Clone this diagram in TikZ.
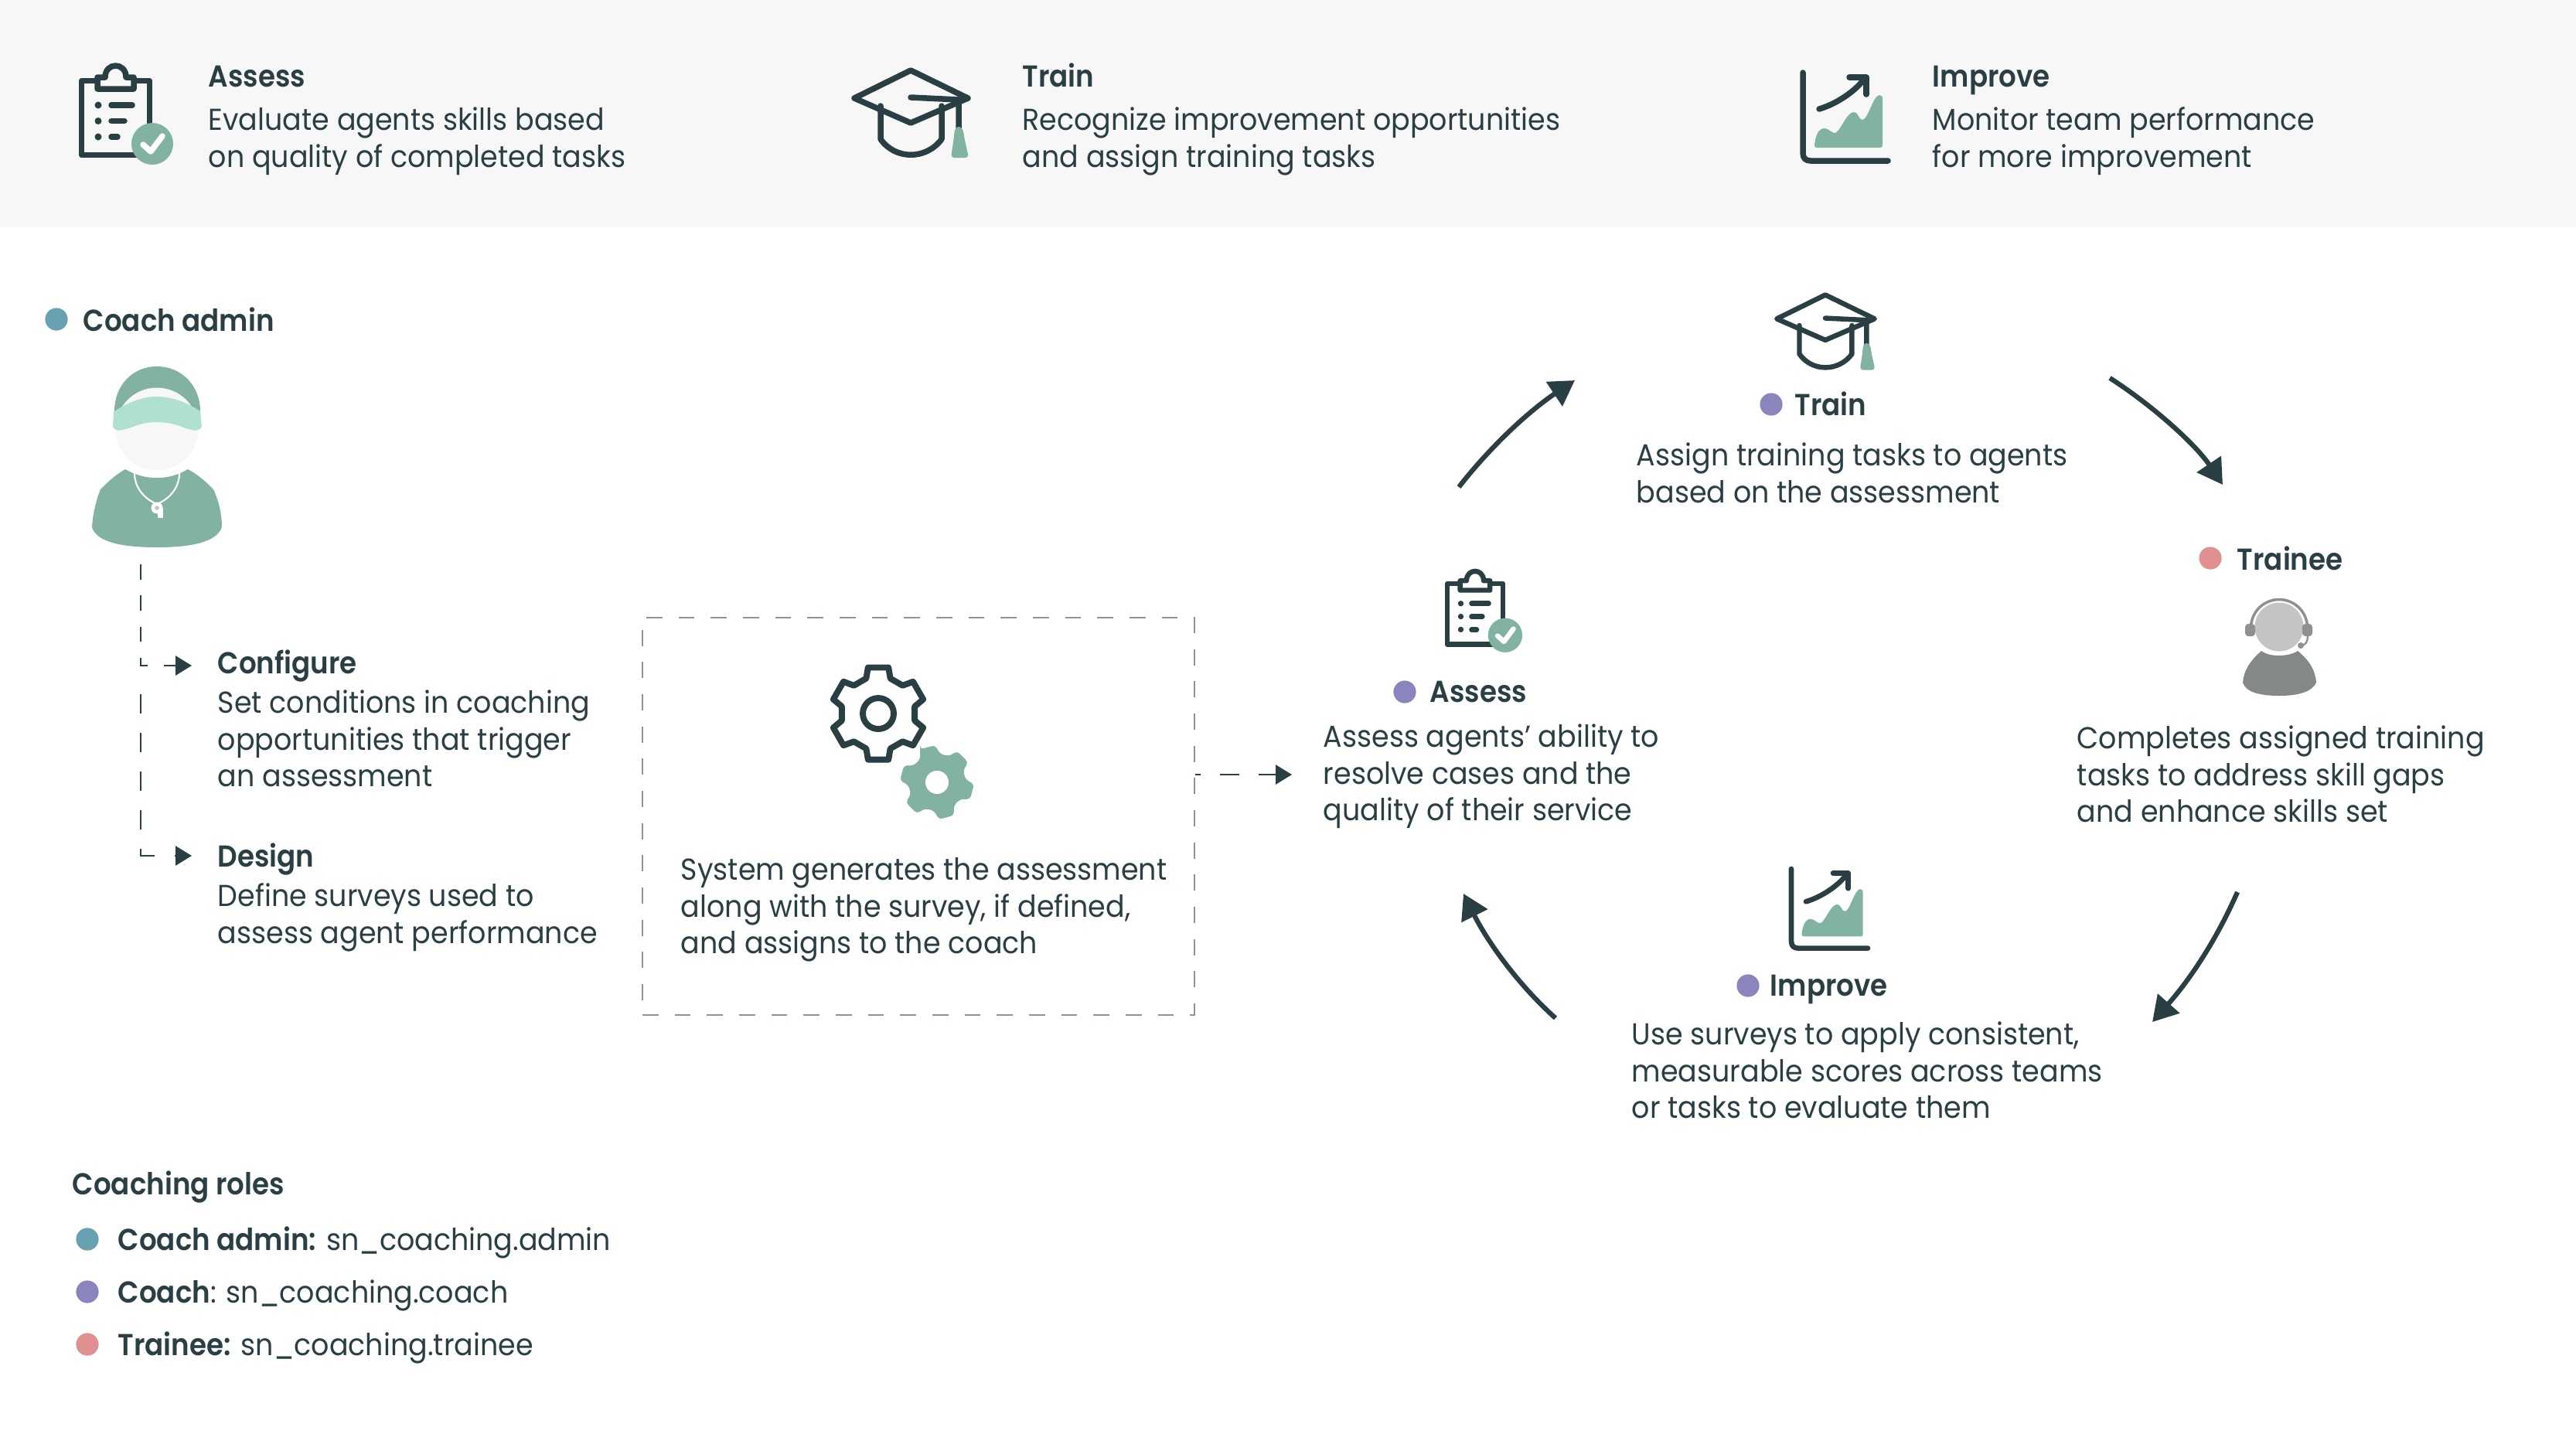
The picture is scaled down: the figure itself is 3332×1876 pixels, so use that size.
\documentclass[tikz,border=0pt]{standalone}
\usepackage{fontspec}
\setmainfont{Poppins}[UprightFeatures={FakeStretch=0.93},BoldFont={Poppins SemiBold},BoldFeatures={FakeStretch=0.91}]
\usetikzlibrary{arrows.meta,calc}
\definecolor{ink}{HTML}{293F44}
\definecolor{sage}{HTML}{81B3A0}
\definecolor{mint}{HTML}{B0E0CF}
\definecolor{band}{HTML}{F7F7F7}
\definecolor{dotblue}{HTML}{68A2B2}
\definecolor{dotpurple}{HTML}{8A85BD}
\definecolor{dotred}{HTML}{E09090}
\definecolor{greyA}{HTML}{C2C4C6}
\definecolor{greyB}{HTML}{8E9092}
\definecolor{greyC}{HTML}{858889}
\definecolor{dashgrey}{HTML}{8F9393}
\tikzset{
  bodytext/.style={anchor=north west,inner sep=0pt,align=left,text=ink,font=\fontsize{9.4}{11.47}\selectfont},
  headtext/.style={anchor=base west,inner sep=0pt,text=ink,font=\fontsize{9.4}{11.47}\selectfont\bfseries},
  roletext/.style={anchor=base west,inner sep=0pt,text=ink,font=\fontsize{9.4}{11.47}\selectfont},
  bigdot/.style={circle,inner sep=0pt,minimum size=7pt,draw=none},
  iconline/.style={draw=ink,line join=round,line cap=round},
  cyclearrow/.style={draw=ink,line width=1.5pt,-{Triangle[length=7.7pt,width=8.8pt]}},
  tri/.style={-{Triangle[length=5pt,width=6pt]}},
}
\newcommand{\iconclip}[5]{% x y scale lw bg
\begin{scope}[shift={(#1,#2)},scale=#3]
 \draw[iconline,line width=#4,fill=#5] (3.5,3.5) rectangle (91.5,99.5);
 \draw[iconline,line width=#4,fill=#5] (24,14) -- (24,-1) -- (34,-1) .. controls (34,-21) and (61,-21) .. (61,-1) -- (71,-1) -- (71,14) -- cycle;
 \fill[ink] (25,35) circle (4.5);
 \fill[ink] (25,55.5) circle (4.5);
 \fill[ink] (25,76) circle (4.5);
 \draw[iconline,line width=#4] (42,35) -- (69,35);
 \draw[iconline,line width=#4] (42,55.5) -- (59,55.5);
 \draw[iconline,line width=#4] (42,76) -- (50,76);
 \fill[sage] (95,85) circle (27);
 \draw[white,line width=#4,line cap=round,line join=round] (83,86) -- (93,95) -- (108,75);
\end{scope}}
\newcommand{\iconcap}[4]{% x y scale lw (origin = top of diamond)
\begin{scope}[shift={(#1,#2)},scale=#3]
 \draw[iconline,line width=#4] (-39,50) -- (-39,93) .. controls (-20,120) and (20,120) .. (40,93) -- (40,50);
 \draw[iconline,line width=#4] (0,4) -- (74,40) -- (0,72) -- (-73,40) -- cycle;
 \draw[iconline,line width=#4] (0,39) -- (62,42) -- (62,82);
 \fill[sage,rounded corners=1pt] (52,117) -- (56,90) .. controls (57,74) and (67,74) .. (69,90) -- (75,117) -- cycle;
\end{scope}}
\newcommand{\iconchart}[4]{% x y scale lw (origin = top of axis)
\begin{scope}[shift={(#1,#2)},scale=#3]
 \fill[sage] (15,94) .. controls (16,82) and (20,72) .. (28,72) .. controls (33,72) and (37,78) .. (41,78) .. controls (48,78) and (56,51) .. (66,51) .. controls (72,51) and (72,61) .. (77,61) .. controls (84,61) and (91,29) .. (99,29) .. controls (102,29) and (103,31) .. (103,35) -- (103,93) .. controls (103,96) and (102,97) .. (100,97) -- (18,97) .. controls (16,97) and (15,96) .. (15,94) -- cycle;
 \draw[iconline,line width=#4] (0,0) -- (0,104) .. controls (0,111) and (4,114) .. (10,114) -- (110,114);
 \draw[iconline,line width=#4] (21,47) .. controls (45,40) and (70,22) .. (80,7);
 \draw[iconline,line width=#4] (60,6) -- (82,6) -- (82,28);
\end{scope}}
\begin{document}
\begin{tikzpicture}[x=0.24pt,y=-0.24pt]
\useasboundingbox (0,0) rectangle (3332,1876);
\fill[white] (0,0) rectangle (3332,1876);
\fill[band] (0,0) rectangle (3332,293);
% top band
\iconclip{102}{101}{1}{1.8pt}{band}
\iconcap{1178}{87}{1}{1.8pt}
\iconchart{2332}{94}{1}{1.8pt}
\node[headtext] (hassess) at (269,112) {Assess};
\node[bodytext] (bassess) at (269,134) {\strut Evaluate agents skills based\\on quality of completed tasks};
\node[headtext] (htrain) at (1322,112) {Train};
\node[bodytext] (btrain) at (1322,134) {\strut Recognize improvement opportunities\\and assign training tasks};
\node[headtext] (himprove) at (2499,112) {Improve};
\node[bodytext] (bimprove) at (2499,134) {\strut Monitor team performance\\for more improvement};
% coach admin
\node[bigdot,fill=dotblue] (dcoach) at (73,413) {};
\node[headtext] (lcoach) at (107,428) {Coach admin};
\fill[sage] (203,474) .. controls (172,474) and (148,498) .. (148,532) -- (259,532) .. controls (259,498) and (234,474) .. (203,474) -- cycle;
\fill[band] (203,555) circle (53.5);
\fill[mint] (147,533) .. controls (165,520) and (185,513) .. (203,513) .. controls (222,513) and (243,521) .. (259,532) -- (261,552) .. controls (257,560) and (245,556) .. (235,552) .. controls (222,547) and (212,546) .. (203,546) .. controls (192,546) and (182,548) .. (172,552) .. controls (160,556) and (150,560) .. (146,552) -- cycle;
\fill[sage] (162,607) .. controls (188,622) and (218,622) .. (243,607) .. controls (258,615) and (268,625) .. (276,633) .. controls (283,648) and (287,665) .. (287,682) .. controls (280,702) and (245,708) .. (203,708) .. controls (160,708) and (125,702) .. (119,682) .. controls (120,665) and (124,648) .. (130,633) .. controls (138,625) and (148,615) .. (162,607) -- cycle;
\draw[white,line width=0.5pt] (174,612) .. controls (174,632) and (188,646) .. (203,652) .. controls (218,646) and (232,632) .. (232,612);
\fill[white] (203,657) circle (7.5);
\fill[white] (204,657) rectangle (211,670);
\fill[greyA] (203,657) circle (2.8);
\coordinate (c0) at (182,730);
\coordinate (c1) at (182,861);
\coordinate (c2) at (191,861);
\coordinate (c3) at (212,861);
\coordinate (c4) at (248,861);
\coordinate (c5) at (182,898);
\coordinate (c6) at (182,1107);
\coordinate (c7) at (200,1107);
\coordinate (c8) at (226,1107);
\coordinate (c9) at (248,1107);
\draw[ink,line width=0.55pt,dash pattern=on 4.7pt off 5pt] (c0) -- (c1);
\draw[ink,line width=0.55pt] ($(c1)+(0,-6)$) -- (c1) -- (c2);
\draw[ink,line width=0.55pt,tri] (c3) -- (c4);
\draw[ink,line width=0.55pt,dash pattern=on 6pt off 6pt] (c5) -- (c6);
\draw[ink,line width=0.55pt] ($(c6)+(0,-8)$) -- (c6) -- (c7);
\draw[ink,line width=0.55pt,tri] (c8) -- (c9);
\node[headtext] (hconf) at (281,871) {Configure};
\node[bodytext] (bconf) at (281,888) {\strut Set conditions in coaching\\opportunities that trigger\\an assessment};
\node[headtext] (hdesign) at (281,1121) {Design};
\node[bodytext] (bdesign) at (281,1138) {\strut Define surveys used to\\assess agent performance};
% system box
\node[draw=dashgrey,line width=0.6pt,dash pattern=on 5pt off 5pt,minimum width=171.4pt,minimum height=123.4pt,inner sep=0pt] (sysbox) at (1188,1056) {};
\begin{scope}[shift={(1136,923)}]
 \draw[iconline,line width=1.9pt] (102.5:61) \foreach \a in {90,30,-30,-90,-150,-210}{ -- (\a+12.5:61) -- (\a-12.5:61) -- (\a-19:48) -- (\a-41:48)} -- cycle;
 \draw[iconline,line width=1.9pt] (0,0) circle (20);
\end{scope}
\begin{scope}[shift={(1212,1012)}]
 \fill[sage,rounded corners=1pt] (-117:48) \foreach \a in {-105,-45,15,75,135,195}{ -- (\a-12:48) -- (\a+12:48) -- (\a+21:37) -- (\a+39:37)} -- cycle;
 \fill[white] (0,0) circle (15);
\end{scope}
\node[bodytext] (bsys) at (880,1104) {\strut System generates the assessment\\along with the survey, if defined,\\and assigns to the coach};
% dashed connector
\coordinate (s0) at ($(sysbox.east)+(0,-54)$);
\coordinate (s1) at (1553,1002);
\coordinate (s2) at (1578,1002);
\coordinate (s3) at (1603,1002);
\coordinate (s4) at (1628,1002);
\coordinate (s5) at (1671,1002);
\draw[ink,line width=0.55pt] (s0) -- (s1);
\draw[ink,line width=0.55pt] (s2) -- (s3);
\draw[ink,line width=0.55pt,tri] (s4) -- (s5);
% cycle: train
\iconcap{2361}{378}{0.86}{1.55pt}
\node[bigdot,fill=dotpurple] (dtrain) at (2291,523) {};
\node[headtext] (ltrain) at (2321,537) {Train};
\node[bodytext] (bctrain) at (2116,568) {\strut Assign training tasks to agents\\based on the assessment};
% trainee
\node[bigdot,fill=dotred] (dtrainee) at (2859,722) {};
\node[headtext] (ltrainee) at (2893,737) {Trainee};
\draw[greyB,line width=0.85pt] (2911.5,812) arc (180:360:36.5);
\fill[greyA] (2948,811) circle (31.5);
\fill[greyB,rounded corners=1pt] (2904,807) rectangle (2917,823);
\fill[greyB,rounded corners=1pt] (2978,807) rectangle (2991,823);
\draw[greyB,line width=0.55pt] (2985,823) .. controls (2985,830) and (2982,835) .. (2976,835);
\fill[greyB] (2976,835) circle (4);
\fill[greyC] (2925,842) .. controls (2935,850) and (2960,850) .. (2972,842) .. controls (2988,855) and (2995,868) .. (2996,883) .. controls (2990,896) and (2970,900) .. (2948,900) .. controls (2925,900) and (2905,896) .. (2901,883) .. controls (2902,868) and (2910,855) .. (2925,842) -- cycle;
\node[bodytext] (bctrainee) at (2686,934) {\strut Completes assigned training\\tasks to address skill gaps\\and enhance skills set};
% improve
\iconchart{2317}{1124}{0.9}{1.6pt}
\node[bigdot,fill=dotpurple] (dimprove) at (2261,1275) {};
\node[headtext] (limprove) at (2289,1288) {Improve};
\node[bodytext] (bcimprove) at (2110,1317) {\strut Use surveys to apply consistent,\\measurable scores across teams\\or tasks to evaluate them};
% assess
\iconclip{1869}{752}{0.82}{1.55pt}{white}
\node[bigdot,fill=dotpurple] (dassess) at (1817,895) {};
\node[headtext] (lassess) at (1849,908) {Assess};
\node[bodytext] (bcassess) at (1711,932) {\strut Assess agents' ability to\\resolve cases and the\\quality of their service};
% cycle arrows
\coordinate (a1) at (1887,630);
\coordinate (a2) at (2037,492);
\coordinate (a3) at (2729,489);
\coordinate (a4) at (2875,627);
\coordinate (a5) at (2894,1154);
\coordinate (a6) at (2784,1322);
\coordinate (a7) at (2012,1317);
\coordinate (a8) at (1893,1156);
\draw[cyclearrow] (a1) .. controls (1930,575) and (1980,530) .. (a2);
\draw[cyclearrow] (a3) .. controls (2785,525) and (2840,575) .. (a4);
\draw[cyclearrow] (a5) .. controls (2865,1220) and (2830,1270) .. (a6);
\draw[cyclearrow] (a7) .. controls (1965,1275) and (1925,1220) .. (a8);
% roles
\node[headtext] (hroles) at (93,1545) {Coaching roles};
\node[bigdot,fill=dotblue] (r1) at (113,1603) {};
\node[roletext] (t1) at (152,1617) {\textbf{Coach admin:} sn\_coaching.admin};
\node[bigdot,fill=dotpurple] (r2) at (113,1671) {};
\node[roletext] (t2) at (152,1685) {\textbf{Coach}: sn\_coaching.coach};
\node[bigdot,fill=dotred] (r3) at (113,1739) {};
\node[roletext] (t3) at (152,1753) {\textbf{Trainee:} sn\_coaching.trainee};
\end{tikzpicture}
\end{document}
